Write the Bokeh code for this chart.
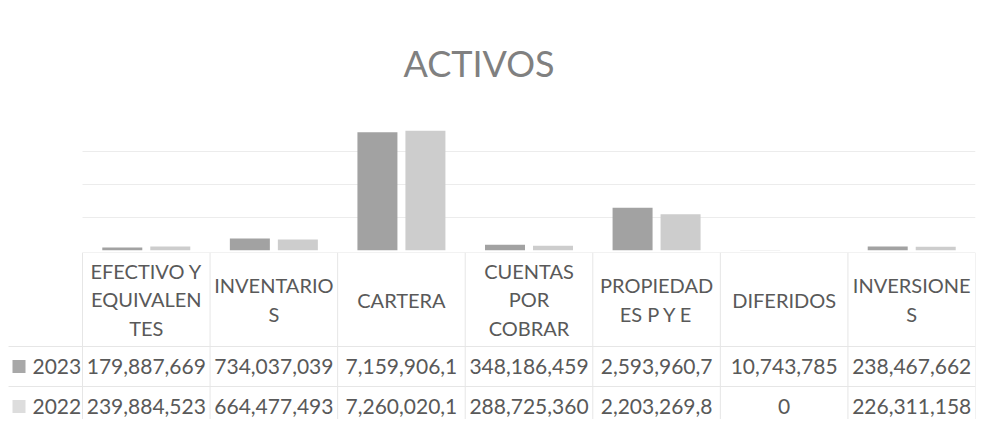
from bokeh.plotting import figure
from bokeh.models import Range1d, FixedTicker, ColumnDataSource
from bokeh.layouts import column
from bokeh.core.properties import value
from bokeh.embed import file_html
from bokeh.resources import INLINE

# ---------------- data ----------------
categories = ["EFECTIVO Y EQUIVALENTES", "INVENTARIOS", "CARTERA", "CUENTAS POR COBRAR",
              "PROPIEDADES P Y E", "DIFERIDOS", "INVERSIONES"]
category_labels = ["EFECTIVO Y\nEQUIVALEN\nTES", "INVENTARIO\nS", "CARTERA", "CUENTAS\nPOR\nCOBRAR",
                   "PROPIEDAD\nES P Y E", "DIFERIDOS", "INVERSIONE\nS"]
series_names = ["2023", "2022"]
values_2023 = [179887669, 734037039, 7159906150, 348186459, 2593960750, 10743785, 238467662]
values_2022 = [239884523, 664477493, 7260020150, 288725360, 2203269850, 0, 226311158]
grid_ticks = [2e9, 4e9, 6e9, 8e9]
y_max = 8e9

# ---------------- style ----------------
FONT = "Lato"
TEXT_COLOR = "#595959"
C2023 = "#a2a2a2"
C2022 = "#cdcdcd"
KEY2023 = "#a8a8a8"
KEY2022 = "#dddddd"
LINE = "#e6e6e6"

W = 980
CAT_LEFT = 82      # px where the first category starts
RIGHT = 5
n = len(categories)
PX = (W - RIGHT - CAT_LEFT) / n   # px per category

def u(px):
    return (px - CAT_LEFT) / PX

x_start = u(0)
xc = [i + 0.5 for i in range(n)]

# ---------------- top: bars ----------------
bw = 40 / PX
off = 24 / PX
src = ColumnDataSource(dict(x1=[x - off for x in xc], x2=[x + off for x in xc],
                            v2023=values_2023, v2022=values_2022))

top = figure(x_range=Range1d(x_start, n), y_range=Range1d(0, y_max),
             width=W, height=252, output_backend="svg", toolbar_location=None,
             min_border_left=0, min_border_right=RIGHT, min_border_top=118, min_border_bottom=2)
top.xaxis.visible = False
top.yaxis.visible = False
top.xgrid.visible = False
top.ygrid.ticker = FixedTicker(ticks=grid_ticks)
top.ygrid.grid_line_color = "#ececec"
top.ygrid.cross_bounds = (0, n)
top.outline_line_color = None
top.background_fill_color = "white"
top.border_fill_color = "white"

top.vbar(x="x1", top="v2023", width=bw, source=src, fill_color=C2023, line_color=None)
top.vbar(x="x2", top="v2022", width=bw, source=src, fill_color=C2022, line_color=None)

top.title.text = "ACTIVOS"
top.title.align = "left"
top.title.offset = 403
top.title.text_font = FONT
top.title.text_font_size = "36px"
top.title.text_font_style = "normal"
top.title.text_color = "#808080"
top.title.standoff = 67

# ---------------- bottom: data table ----------------
H2 = 167
row_heights = [94, 40, 40]
row_top = [0, 94, 134]
row_center = [t + h / 2 for t, h in zip(row_top, row_heights)]

bot = figure(x_range=Range1d(x_start, n), y_range=Range1d(H2, 0),
             width=W, height=H2, output_backend="svg", toolbar_location=None,
             min_border_left=0, min_border_right=RIGHT, min_border_top=0, min_border_bottom=0)
bot.xaxis.visible = False
bot.yaxis.visible = False
bot.outline_line_color = None
bot.xgrid.visible = False
bot.ygrid.visible = False
bot.background_fill_color = "white"
bot.border_fill_color = "white"

# table lines
vx0 = [i for i in range(n + 1)]
bot.segment(x0=vx0, y0=[0] * (n + 1), x1=vx0, y1=[H2] * (n + 1), line_color=LINE, line_width=1)
bot.segment(x0=[0, u(8), u(8)], y0=[0, row_top[1], row_top[2]], x1=[n, n, n],
            y1=[0, row_top[1], row_top[2]], line_color=LINE, line_width=1)

bot.text(x=xc, y=[row_center[0]] * n, text=category_labels, text_font=value(FONT),
         text_font_size="20px", text_color=TEXT_COLOR, text_align="center",
         text_baseline="middle", text_line_height=1.2)

fmt = lambda v: f"{v:,}"[:11]
for k, vals in enumerate([values_2023, values_2022]):
    bot.text(x=xc, y=[row_center[k + 1]] * n, text=[fmt(v) for v in vals], text_font=value(FONT),
             text_font_size="21px", text_color=TEXT_COLOR, text_align="center",
             text_baseline="middle")

bot.text(x=[u(32), u(32)], y=[row_center[1], row_center[2]], text=series_names, text_font=value(FONT),
         text_font_size="21px", text_color=TEXT_COLOR, text_align="left", text_baseline="middle")
bot.scatter(x=[u(18.5), u(18.5)], y=[row_center[1], row_center[2]], marker="square", size=13,
            fill_color=[KEY2023, KEY2022], line_color=None)

layout = column(top, bot, spacing=0)
open("out.html", "w").write(file_html(layout, INLINE))
